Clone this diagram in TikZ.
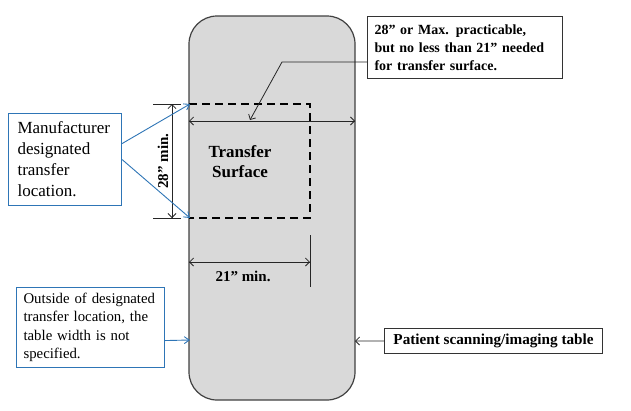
\documentclass[tikz,border=0pt]{standalone}
\usepackage{fontspec}
\setmainfont{Liberation Serif}
\usetikzlibrary{arrows.meta,positioning}
\definecolor{tablegray}{RGB}{217,217,217}
\definecolor{calloutblue}{RGB}{46,117,182}

\begin{document}
\begin{tikzpicture}[x=1pt,y=-1pt,
		bluebox/.style={draw=calloutblue,line width=1.1pt,fill=white,align=left,inner ysep=0pt},
		darkbox/.style={draw=black!80,line width=1.1pt,fill=white,align=left,inner ysep=0pt,font=\bfseries},
		dimline/.style={line width=0.8pt,draw=black!85},
		tip/.style={-{Straight Barb[length=4pt,width=8pt]}},
		bluetip/.style={-{Straight Barb[length=5pt,width=7pt]},draw=calloutblue,line width=0.9pt}]
			\useasboundingbox (0,0) rectangle (631,410);
			
			% Table
			\draw[fill=tablegray,draw=black!75,line width=1.2pt,rounded corners=28pt] (189,16) rectangle (355,400);
			\draw[line width=2.2pt,dash pattern=on 8pt off 5pt] (189,104) -- (310,104) -- (310,218) -- (189,218);
			
			% Points on the table
			\coordinate (wL) at (189,121);
			\coordinate (wR) at (355,121);
			\coordinate (tipTop) at (190,104);
			\coordinate (tipBot) at (190,218);
			\coordinate (hTop) at (172,104);
			\coordinate (hBot) at (172,218);
			\coordinate (sL) at (189,262);
			\coordinate (sR) at (310,262);
			\coordinate (pointIn) at (250,120);
			\coordinate (bend) at (282,62);
			\coordinate (edgeL) at (190,340);
			\coordinate (edgeR) at (355,341);
			
			% Dimensions
			\draw[dimline,tip] (wL) -- (wR);
			\draw[dimline,tip] (wR) -- (wL);
			\draw[dimline] (153,104) -- (181,104);
			\draw[dimline] (153,218) -- (181,218);
			\draw[dimline,tip] (hTop) -- (hBot);
			\draw[dimline,tip] (hBot) -- (hTop);
			\draw[dimline] (310,235) -- (310,287);
			\draw[dimline,tip] (sL) -- (sR);
			\draw[dimline,tip] (sR) -- (sL);
			
			% Labels
			\node[font=\fontsize{17}{20}\selectfont\bfseries,align=center] (surface) at (240,162) {Transfer\\Surface};
			\node[font=\fontsize{15}{18}\selectfont\bfseries] (w21) at (243,276) {21” min.};
			\node[font=\fontsize{15}{18}\selectfont\bfseries,rotate=90] (h28) at (163,161) {28” min.};
			
			% Callouts
			\node[darkbox,anchor=north west,text width=181pt,inner xsep=7pt,minimum height=62pt,
				font=\fontsize{14}{18}\selectfont\bfseries] (maxnote) at (367,16)
				{28” or Max. practicable,\\but no less than 21” needed\\for transfer surface.};
			\node[bluebox,anchor=north west,text width=95pt,inner xsep=9pt,minimum height=92pt,
				font=\fontsize{17}{21}\selectfont] (mfrnote) at (8,113)
				{Manufacturer\\designated\\transfer\\location.};
			\node[bluebox,anchor=north west,text width=134pt,inner xsep=7pt,minimum height=80pt,
				font=\fontsize{14.8}{18.5}\selectfont] (outnote) at (16,287)
				{Outside of designated\\transfer location, the\\table width is not\\specified.};
			\node[darkbox,anchor=north west,minimum width=218pt,minimum height=25pt,align=center,
				font=\fontsize{15.2}{17}\selectfont\bfseries] (tablenote) at (384,328)
				{Patient scanning/imaging table};
			
			% Leaders
			\draw[dimline,tip] (maxnote.south west |- bend) -- (bend) -- (pointIn);
			\draw[bluetip] ([yshift=16pt]mfrnote.east) -- (tipTop);
			\draw[bluetip] (mfrnote.east) -- (tipBot);
			\draw[bluetip] ([yshift=-13pt]outnote.east) -- (edgeL);
			\draw[dimline,tip] (tablenote.west) -- (edgeR);
		\end{tikzpicture}
\end{document}
